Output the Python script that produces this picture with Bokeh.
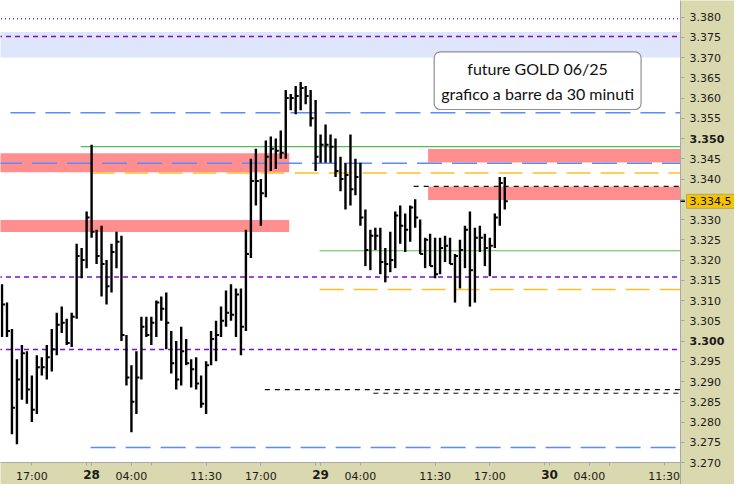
from bokeh.plotting import figure
from bokeh.models import FixedTicker, Label, LinearAxis
from bokeh.embed import file_html
from bokeh.resources import INLINE

# ---------------- data (30-minute OHLC bars, GOLD future 06/25) ----------------
bar_high = [3314.0, 3309.5, 3303.0, 3295.5, 3299.0, 3297.5, 3291.5, 3296.5, 3296.0, 3299.0,
            3303.0, 3307.0, 3308.5, 3305.5, 3307.0, 3324.0, 3323.0, 3332.0, 3348.5, 3327.5,
            3328.5, 3320.0, 3324.0, 3327.0, 3326.0, 3301.5, 3294.0, 3297.5, 3306.0, 3306.0,
            3306.0, 3310.0, 3311.0, 3312.0, 3302.5, 3300.0, 3303.5, 3300.5, 3295.5, 3296.0,
            3291.5, 3295.0, 3302.5, 3305.0, 3308.5, 3312.5, 3314.0, 3313.0, 3313.0, 3327.5,
            3345.0, 3347.5, 3340.0, 3349.5, 3350.5, 3350.0, 3352.0, 3362.0, 3361.0, 3363.0,
            3364.0, 3363.0, 3362.0, 3359.5, 3351.0, 3353.5, 3351.0, 3350.0, 3345.5, 3344.0,
            3351.0, 3345.0, 3344.0, 3332.5, 3327.5, 3328.0, 3328.0, 3323.0, 3327.0, 3332.0,
            3333.5, 3331.5, 3333.5, 3335.0, 3330.0, 3325.5, 3326.5, 3325.5, 3325.5, 3326.0,
            3325.5, 3321.5, 3325.0, 3328.5, 3332.0, 3328.0, 3328.5, 3326.5, 3325.5, 3331.5,
            3340.5, 3340.5]
bar_low = [3301.0, 3301.0, 3277.0, 3274.5, 3285.5, 3284.5, 3280.0, 3282.0, 3291.5, 3290.5,
           3292.5, 3296.5, 3302.0, 3299.0, 3298.5, 3305.5, 3315.5, 3318.0, 3325.5, 3319.0,
           3311.0, 3309.0, 3312.0, 3318.0, 3300.0, 3289.0, 3277.5, 3282.0, 3290.5, 3301.0,
           3299.0, 3301.0, 3305.0, 3298.0, 3292.0, 3288.0, 3289.0, 3294.0, 3288.5, 3288.0,
           3283.5, 3282.0, 3294.0, 3295.0, 3301.0, 3303.5, 3305.0, 3301.0, 3296.5, 3302.5,
           3320.5, 3333.5, 3328.5, 3335.5, 3342.0, 3342.5, 3345.0, 3345.0, 3357.0, 3356.0,
           3357.0, 3358.5, 3353.0, 3342.0, 3344.0, 3344.0, 3344.0, 3340.5, 3337.0, 3332.5,
           3333.5, 3336.0, 3328.5, 3318.5, 3317.5, 3322.5, 3316.5, 3314.5, 3317.0, 3318.0,
           3324.0, 3322.0, 3324.5, 3328.0, 3321.5, 3318.0, 3318.5, 3315.5, 3316.5, 3319.5,
           3319.0, 3309.5, 3313.0, 3318.0, 3308.5, 3309.5, 3322.0, 3318.5, 3316.0, 3323.0,
           3328.5, 3332.5]
bar_close = [3309.0, 3302.5, 3283.5, 3290.5, 3297.0, 3288.0, 3283.0, 3293.5, 3293.5, 3296.0,
             3298.0, 3304.0, 3304.5, 3299.5, 3306.0, 3321.0, 3320.0, 3330.5, 3327.0, 3321.0,
             3319.0, 3313.5, 3322.0, 3324.5, 3301.5, 3291.0, 3285.0, 3291.0, 3303.5, 3301.5,
             3304.5, 3309.5, 3308.0, 3304.5, 3294.5, 3290.5, 3297.5, 3294.5, 3293.0, 3289.5,
             3284.5, 3294.0, 3300.5, 3301.5, 3305.0, 3307.0, 3306.5, 3311.5, 3303.5, 3321.5,
             3339.5, 3339.5, 3336.5, 3345.5, 3347.5, 3347.0, 3346.5, 3360.0, 3360.0, 3360.5,
             3362.5, 3360.5, 3355.0, 3345.5, 3348.5, 3348.5, 3348.0, 3342.0, 3340.0, 3341.0,
             3337.5, 3340.5, 3330.5, 3322.5, 3326.0, 3326.0, 3319.5, 3319.0, 3320.0, 3331.0,
             3328.5, 3327.5, 3333.0, 3330.5, 3321.5, 3325.0, 3318.5, 3316.5, 3323.0, 3323.5,
             3319.0, 3321.0, 3322.5, 3327.5, 3317.5, 3325.5, 3325.5, 3323.0, 3323.5, 3330.5,
             3339.0, 3334.5]
bar_idx = list(range(len(bar_high)))

# time axis (bar index of each tick) and its labels
tick_pos = [6, 17, 18, 26, 30, 41, 52, 63, 64, 72, 87, 98, 109, 110, 118, 122, 133]
tick_text = ["17:00", "", "28", "04:00", "", "11:30", "17:00", "", "29", "04:00",
             "11:30", "17:00", "", "30", "04:00", "", "11:30"]
day_ticks = [18, 64, 110]
day_text = ["28", "29", "30"]

# price axis
price_ticks = list(range(3270, 3381, 5))
bold_prices = [3300, 3350]
last_price = 3334.5
last_price_text = "3.334,5"

# support / resistance zones
zone_low = [3370.0, 3341.7, 3326.9, 3344.1, 3334.8]
zone_high = [3376.3, 3346.4, 3329.9, 3347.4, 3338.1]
zone_from = [-1.0, -1.0, -1.0, 85.6, 85.6]
zone_kind = ["blue", "red", "red", "red", "red"]
zone_to_end = [True, False, False, True, True]
zone_to = [None, 57.7, 57.7, None, None]

# horizontal levels
level_price = [3379.6, 3375.2, 3356.4, 3348.0, 3343.9, 3341.5, 3338.2, 3322.3,
               3315.8, 3312.7, 3297.9, 3288.0, 3287.1, 3273.7]
level_from = [-1.0, -1.0, 1.7, 15.8, -1.0, 17.8, 82.7, 63.8,
              -1.0, 63.8, -1.0, 52.8, 74.6, 17.8]
level_kind = ["purple_dot", "purple_dash", "blue", "green", "blue", "orange", "black", "green",
              "purple_dash", "orange", "purple_dash", "black", "black", "blue"]

title_text = "future GOLD 06/25\ngrafico a barre da 30 minuti"
title_x = 107.6
title_y = 3364.3

# ---------------- styles / layout ----------------
zone_colors = {"blue": "#dee5fc", "red": "#ff8f8f"}
level_styles = {
    "purple_dot": dict(line_color="#7a2cb8", line_dash="1 3", line_width=1.5),
    "purple_dash": dict(line_color="#7b10c4", line_dash="5 4", line_width=1.5),
    "blue": dict(line_color="#5a8cff", line_dash="25 10", line_width=1.5),
    "green": dict(line_color="#55bb55", line_dash="solid", line_width=1.2),
    "orange": dict(line_color="#ffbf2a", line_dash="24 10", line_width=1.5),
    "black": dict(line_color="#111111", line_dash="5 5", line_width=1.2),
}
AXIS_BG = "#dad8ae"
EDGE_GREY = "#a8a8a8"
FONT = "DejaVu Sans"

CANVAS_W, CANVAS_H = 734, 484
CHART_W, CHART_H = 680, 462          # the price area; the rest is the axis band
X0, X1 = -0.3, 136.3                  # visible bars in the price area
Y0, Y1 = 3270.0, 3384.1               # visible prices in the price area
XF = X0 + (X1 - X0) * CANVAS_W / CHART_W
YF = Y0 - (Y1 - Y0) * (CANVAS_H - CHART_H) / CHART_H

p = figure(width=CANVAS_W, height=CANVAS_H, x_range=(X0, XF), y_range=(YF, Y1),
           output_backend="svg", toolbar_location=None, y_axis_location="right",
           min_border=0)
p.xgrid.visible = False
p.ygrid.visible = False
p.background_fill_color = "white"
p.border_fill_color = AXIS_BG
p.outline_line_color = None

# zones
for lo, hi, x0, to_end, x1, k in zip(zone_low, zone_high, zone_from, zone_to_end, zone_to, zone_kind):
    p.quad(left=x0, right=X1 if to_end else x1, bottom=lo, top=hi,
           fill_color=zone_colors[k], line_color=None)

# levels
for y, x0, k in zip(level_price, level_from, level_kind):
    p.segment(x0=x0, y0=y, x1=X1, y1=y, **level_styles[k])

# bars
p.segment(x0=bar_idx, y0=bar_low, x1=bar_idx, y1=bar_high, line_color="black", line_width=2.4)
p.segment(x0=bar_idx, y0=bar_close, x1=[i + 0.6 for i in bar_idx], y1=bar_close,
          line_color="black", line_width=2)

# axis bands
p.quad(left=X1, right=XF + 1, bottom=YF - 1, top=Y1 + 1, fill_color=AXIS_BG, line_color=None)
p.quad(left=X0 - 1, right=X1, bottom=YF - 1, top=Y0, fill_color=AXIS_BG, line_color=None)
p.segment(x0=X1, y0=YF, x1=X1, y1=Y1 + 1, line_color=EDGE_GREY, line_width=1)
p.segment(x0=X0 - 1, y0=Y0, x1=X1, y1=Y0, line_color=EDGE_GREY, line_width=1)
# last-price mark on the price band
p.segment(x0=X1, y0=last_price, x1=X1 + 0.9, y1=last_price, line_color="black", line_width=1.5)


def style_axis(ax, bold=False):
    ax.axis_line_color = None
    ax.major_tick_line_color = EDGE_GREY
    ax.minor_tick_line_color = None
    ax.major_tick_in = 0
    ax.major_label_text_font = FONT
    ax.major_label_text_font_size = "11px"
    ax.major_label_text_color = "#1a1a1a"
    ax.major_label_text_font_style = "bold" if bold else "normal"


def price_text(t):
    return f"{t // 1000}.{t % 1000:03d}"


# time axis
xa = p.xaxis[0]
xa.fixed_location = Y0
xa.ticker = FixedTicker(ticks=tick_pos, minor_ticks=[])
ov = {t: s for t, s in zip(tick_pos, tick_text)}
for t in day_ticks:
    ov[t] = ""
xa.major_label_overrides = ov
xa.major_tick_out = 3
xa.major_label_standoff = 4
style_axis(xa)

xb = LinearAxis(fixed_location=Y0, ticker=FixedTicker(ticks=day_ticks, minor_ticks=[]),
                major_label_overrides={t: s for t, s in zip(day_ticks, day_text)},
                major_tick_out=3, major_label_standoff=4)
style_axis(xb, bold=True)
xb.major_label_text_font_size = "12px"
p.add_layout(xb, "below")

# price axis
ya = p.yaxis[0]
ya.fixed_location = X1
ya.ticker = FixedTicker(ticks=price_ticks, minor_ticks=[])
ov = {t: price_text(t) for t in price_ticks}
for t in bold_prices:
    ov[t] = ""
ov[3335] = ""
ya.major_label_overrides = ov
ya.major_tick_out = 4
ya.major_label_standoff = 5
style_axis(ya)

yb = LinearAxis(fixed_location=X1, ticker=FixedTicker(ticks=bold_prices, minor_ticks=[]),
                major_label_overrides={t: price_text(t) for t in bold_prices},
                major_tick_out=4, major_label_standoff=5)
style_axis(yb, bold=True)
p.add_layout(yb, "right")

# last price box
p.add_layout(Label(x=X1, y=last_price, x_offset=6, text=last_price_text,
                   text_align="left", text_baseline="middle", text_font=FONT,
                   text_font_size="11px", text_color="#111111",
                   background_fill_color="#f5c400", border_line_color="#b8a860",
                   padding=3))
# title box
p.add_layout(Label(x=title_x, y=title_y, text=title_text, text_align="center",
                   text_baseline="middle", text_font="Lato", text_font_size="16px",
                   text_color="#101010", text_line_height=1.3,
                   background_fill_color="white", border_line_color="#909090",
                   border_line_width=1.2, border_radius=6, padding=7))

open("out.html", "w").write(file_html(p, INLINE))
